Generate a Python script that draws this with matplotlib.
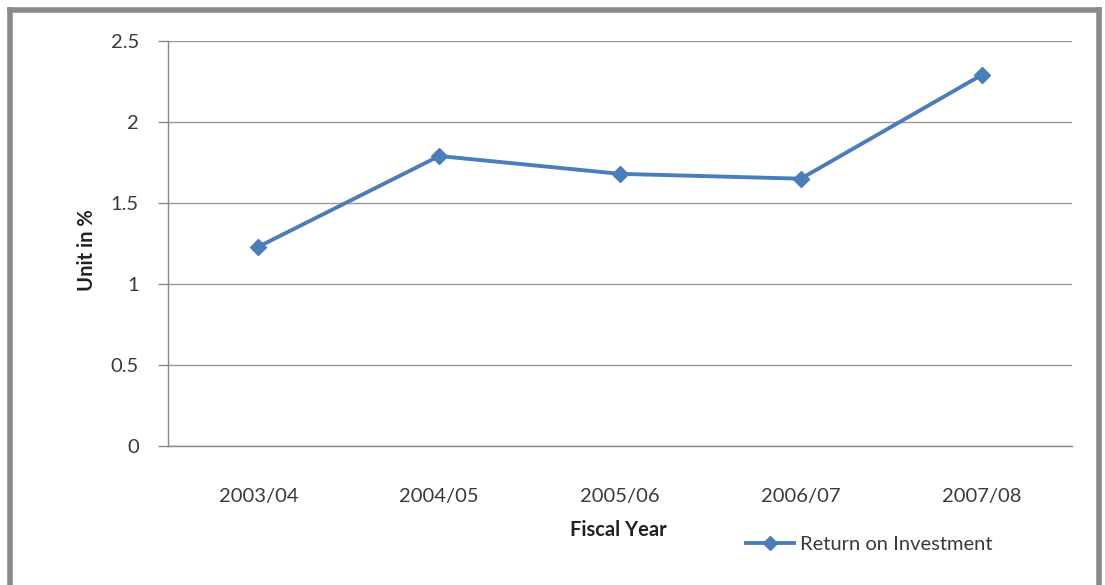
import matplotlib.pyplot as plt
from matplotlib.lines import Line2D

years = ["2003/04", "2004/05", "2005/06", "2006/07", "2007/08"]
roi = [1.23, 1.79, 1.68, 1.65, 2.29]
y_ticks = [0, 0.5, 1, 1.5, 2, 2.5]
y_tick_labels = ["0", "0.5", "1", "1.5", "2", "2.5"]

plt.rcParams['font.family'] = ['Lato', 'DejaVu Sans']

fig = plt.figure(figsize=(11.05, 5.85), dpi=100)
ax = fig.add_axes([168 / 1105, 1 - 446 / 585, (1072 - 168) / 1105, (446 - 41) / 585])

blue = '#4A7EBB'
x = list(range(len(years)))
ax.plot(x, roi, color=blue, lw=2.8, marker='D', ms=8, mfc=blue, mec=blue)

ax.set_xlim(-0.5, len(years) - 0.5)
ax.set_ylim(0, 2.5)
ax.set_xticks(x)
ax.set_xticklabels(years, fontsize=14.5, color='#3a3a3a')
ax.set_yticks(y_ticks)
ax.set_yticklabels(y_tick_labels, fontsize=14.5, color='#3a3a3a')
ax.tick_params(axis='x', length=0, pad=30)
ax.tick_params(axis='y', length=7, color='#888888', width=1, pad=14)
ax.grid(axis='y', color='#999999', lw=1)
ax.set_axisbelow(True)

for s in ['top', 'right']:
    ax.spines[s].set_visible(False)
for s in ['left', 'bottom']:
    ax.spines[s].set_color('#888888')
    ax.spines[s].set_linewidth(1)

fig.text(87 / 1105, 1 - 250 / 585, "Unit in %", fontsize=14.5, fontweight='bold',
         color='#222222', ha='center', va='center', rotation=90)
fig.text(618 / 1105, 1 - 530 / 585, "Fiscal Year", fontsize=14.5, fontweight='bold',
         color='#222222', ha='center', va='center')

handle = Line2D([], [], color=blue, lw=2.8, marker='D', ms=7, mfc=blue, mec=blue)
fig.legend([handle], ["Return on Investment"], loc='center left',
           bbox_to_anchor=(728 / 1105, 1 - 544 / 585), frameon=False, fontsize=14.5,
           handlelength=2.4, handletextpad=0.3, labelcolor='#3a3a3a')

# outer frame: left, top, right edges
frame_kw = dict(color='#8a8a8a', lw=4, transform=fig.transFigure, clip_on=False)
fig.add_artist(Line2D([10 / 1105, 10 / 1105], [0, 1 - 10 / 585], **frame_kw))
fig.add_artist(Line2D([10 / 1105, 1099 / 1105], [1 - 10 / 585, 1 - 10 / 585], **frame_kw))
fig.add_artist(Line2D([1099 / 1105, 1099 / 1105], [0, 1 - 10 / 585], **frame_kw))

fig.savefig("out.png", dpi=100)
